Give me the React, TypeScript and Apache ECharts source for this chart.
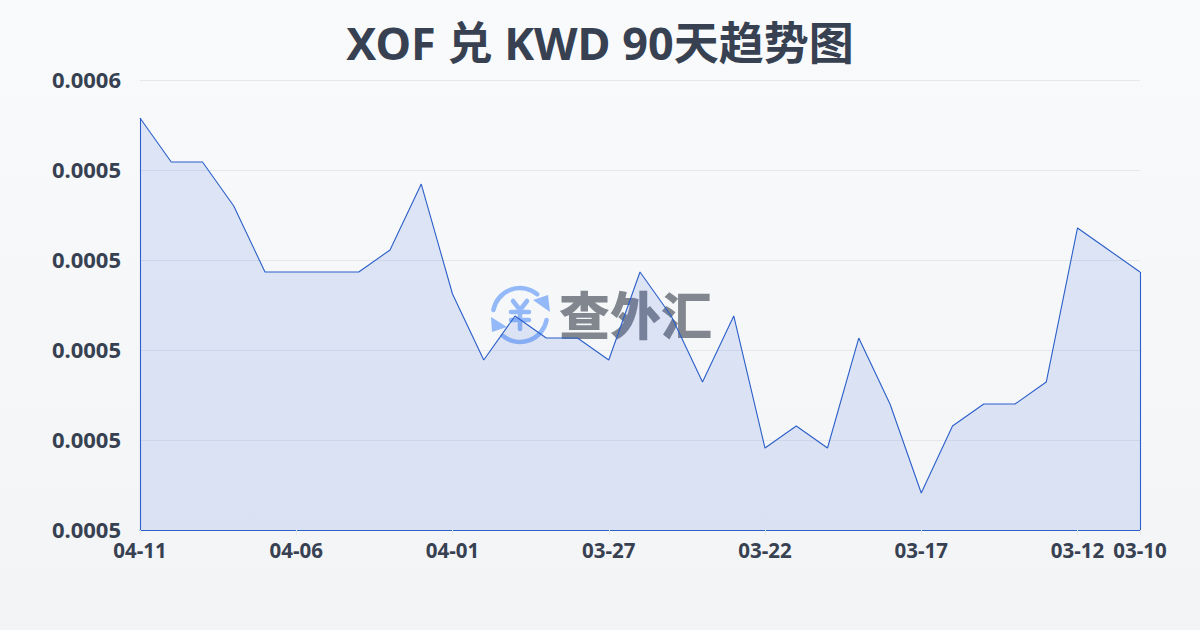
import React, { useEffect, useRef } from "react";
import * as echarts from "echarts";

const titleText = "XOF 兑 KWD 90天趋势图";
const categories = [
  "04-11","04-10","04-09","04-08","04-07","04-06","04-05","04-04","04-03","04-02","04-01",
  "03-31","03-30","03-29","03-28","03-27","03-26","03-25","03-24","03-23","03-22",
  "03-21","03-20","03-19","03-18","03-17","03-16","03-15","03-14","03-13","03-12","03-11","03-10",
];
const rates = [
  0.00054578,0.00054089,0.00054089,0.000536,0.00052867,0.00052867,0.00052867,0.00052867,0.00053111,0.00053844,0.00052622,
  0.00051889,0.00052378,0.00052133,0.00052133,0.00051889,0.00052867,0.00052378,0.00051644,0.00052378,0.00050911,
  0.00051156,0.00050911,0.00052133,0.000514,0.00050411,0.00051156,0.000514,0.000514,0.00051644,0.00053356,0.00053111,0.00052867,
];
const yTickLabels = ["0.0005","0.0005","0.0005","0.0005","0.0005","0.0006"];
const yMin = 0.0005;
const yMax = 0.00055;
const yStep = 0.00001;

const FONT = '"Noto Sans", "Noto Sans CJK SC", sans-serif';
const INK = "#374151";
const LINE = "#2b5fc9";
const LOGO = "#93b9f8";

export default function App() {
  const ref = useRef<HTMLDivElement>(null);
  useEffect(() => {
    document.body.style.margin = "0";
    const chart = echarts.init(ref.current!, undefined, { renderer: "svg" });
    const last = categories.length - 1;
    const showTick = (i: number) => i % 5 === 0 || i === last;
    const logoStroke = { stroke: LOGO, lineWidth: 4.5, lineCap: "round", fill: "none" };
    chart.setOption({
      animation: false,
      backgroundColor: {
        type: "linear", x: 0, y: 0, x2: 0, y2: 1,
        colorStops: [{ offset: 0, color: "#f8fafc" }, { offset: 1, color: "#f3f4f6" }],
      },
      title: {
        text: titleText, left: "center", top: 15,
        textStyle: { fontFamily: FONT, fontSize: 45, fontWeight: "bold", color: INK },
      },
      grid: { left: 140, right: 60, top: 80, bottom: 100 },
      xAxis: {
        type: "category", data: categories, boundaryGap: false,
        axisLine: { show: true, lineStyle: { color: LINE, width: 1 } },
        axisTick: { show: true, length: 5, interval: (i: number) => showTick(i), lineStyle: { color: "#e5e7eb" } },
        axisLabel: {
          interval: (i: number) => showTick(i), margin: 10,
          fontFamily: FONT, fontSize: 20.5, fontWeight: "bold", color: INK,
        },
      },
      yAxis: {
        type: "value", min: yMin, max: yMax, interval: yStep,
        axisLine: { show: false }, axisTick: { show: false },
        splitLine: { show: true, lineStyle: { color: "#e5e7eb", width: 1 } },
        axisLabel: {
          margin: 19, fontFamily: FONT, fontSize: 22, fontWeight: "bold", color: INK,
          verticalAlign: "bottom", lineHeight: 2,
          formatter: (v: number) => yTickLabels[Math.round((v - yMin) / yStep)],
        },
      },
      graphic: [
        { type: "arc", shape: { cx: 520, cy: 315, r: 27, startAngle: Math.PI * 1.06, endAngle: Math.PI * 1.72, clockwise: true }, style: logoStroke },
        { type: "arc", shape: { cx: 520, cy: 315, r: 27, startAngle: Math.PI * 0.06, endAngle: Math.PI * 0.72, clockwise: true }, style: logoStroke },
        { type: "polygon", shape: { points: [[550, 312], [548, 295], [533, 300]] }, style: { fill: LOGO } },
        { type: "polygon", shape: { points: [[491, 317], [492, 332], [507, 327]] }, style: { fill: LOGO } },
        { type: "polyline", shape: { points: [[513, 301], [520, 310], [527, 301]] }, style: logoStroke },
        { type: "line", shape: { x1: 511, y1: 312, x2: 529, y2: 312 }, style: logoStroke },
        { type: "line", shape: { x1: 511, y1: 320, x2: 529, y2: 320 }, style: logoStroke },
        { type: "line", shape: { x1: 520, y1: 310, x2: 520, y2: 329 }, style: logoStroke },
        {
          type: "text", x: 559, y: 287,
          style: { text: "查外汇", fontFamily: '"Noto Sans CJK SC", sans-serif', fontSize: 51, fontWeight: 900, fill: "#81868f" },
        },
      ],
      series: [{
        type: "line", data: rates, symbol: "none", smooth: false,
        lineStyle: { color: LINE, width: 1.1 },
        areaStyle: { color: "rgba(50,100,220,0.19)" },
        markLine: {
          silent: true, symbol: "none", label: { show: false },
          lineStyle: { color: LINE, width: 1.1, type: "solid" },
          data: [
            [{ xAxis: categories[0], yAxis: yMin }, { xAxis: categories[0], yAxis: rates[0] }],
            [{ xAxis: categories[last], yAxis: yMin }, { xAxis: categories[last], yAxis: rates[last] }],
          ],
        },
      }],
    });
    return () => chart.dispose();
  }, []);
  return <div ref={ref} style={{ position: "absolute", left: 0, top: 0, width: 1200, height: 630 }} />;
}
